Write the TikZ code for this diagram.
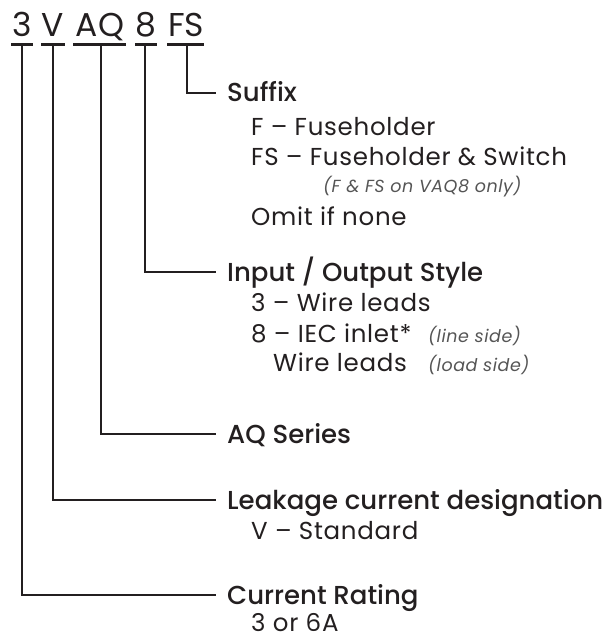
\documentclass[tikz,border=0pt]{standalone}
\usepackage{fontspec}
\setmainfont{Poppins}
\newfontfamily\hdrfont{Poppins Medium}
\newfontfamily\subfont[LetterSpace=3]{Poppins}
\newfontfamily\notefont[LetterSpace=3]{Poppins Italic}
\definecolor{ink}{HTML}{231F20}
\definecolor{note}{HTML}{555555}
\begin{document}
\begin{tikzpicture}[x=1pt,y=-1pt,
  code/.style={inner sep=0pt, anchor=base, font=\fontsize{33}{33}\selectfont, text=ink},
  hdr/.style={inner sep=0pt, anchor=west, font=\hdrfont\fontsize{26}{26}\selectfont, text=ink, text height=18pt, text depth=0pt},
  sub/.style={inner sep=0pt, anchor=base west, font=\subfont\fontsize{24.5}{25}\selectfont, text=ink},
  nt/.style={font=\notefont\fontsize{17.5}{18}\selectfont, text=note},
  bar/.style={line width=3pt, ink},
  conn/.style={line width=1.8pt, ink},
]
\useasboundingbox (0,0) rectangle (605,639);
% code letters
\node[code] (c3)  at (22,37) {3};
\node[code] (cV)  at (53,37) {V};
\node[code] (cAQ) at (100,37) {AQ};
\node[code] (c8)  at (146,37) {8};
\node[code] (cFS) at (186,37) {FS};
% bar ends
\coordinate (b3)  at (22,45);
\coordinate (bV)  at (53,45);
\coordinate (bAQ) at (101,45);
\coordinate (b8)  at (145,45);
\coordinate (bFS) at (187,45);
\draw[bar] (11,45) -- (33,45);
\draw[bar] (41,45) -- (65,45);
\draw[bar] (73,45) -- (126,45);
\draw[bar] (135,45) -- (157,45);
\draw[bar] (167,45) -- (204,45);
% headers
\node[hdr] (suffix) at (227,93) {Suffix};
\node[hdr] (io)     at (227,272) {Input / Output Style};
\node[hdr] (aq)     at (227,434) {AQ Series};
\node[hdr] (leak)   at (227,500) {Leakage current designation};
\node[hdr] (rate)   at (227,595) {Current Rating};
% sub lines
\node[sub] (sF)  at (251,136) {F – Fuseholder};
\node[sub] (sFS) at (251,166) {FS – Fuseholder \& Switch};
\node[sub,nt] (sNote) at (323,192) {(F \& FS on VAQ8 only)};
\node[sub] (sOm) at (251,225) {Omit if none};
\node[sub] (i3)  at (251,311) {3 – Wire leads};
\node[sub] (i8)  at (251,342) {8 – IEC inlet*};
\node[sub,nt] (i8n) at (428,342) {(line side)};
\node[sub] (iW)  at (273,371) {Wire leads};
\node[sub,nt] (iWn) at (428,371) {(load side)};
\node[sub] (vS)  at (251,539) {V – Standard};
\node[sub] (r36) at (251,631) {3 or 6A};
% connectors
\draw[conn] (bFS) |- ([xshift=-11pt]suffix.west);
\draw[conn] (b8)  |- ([xshift=-11pt]io.west);
\draw[conn] (bAQ) |- ([xshift=-11pt]aq.west);
\draw[conn] (bV)  |- ([xshift=-11pt]leak.west);
\draw[conn] (b3)  |- ([xshift=-11pt]rate.west);
\end{tikzpicture}
\end{document}
